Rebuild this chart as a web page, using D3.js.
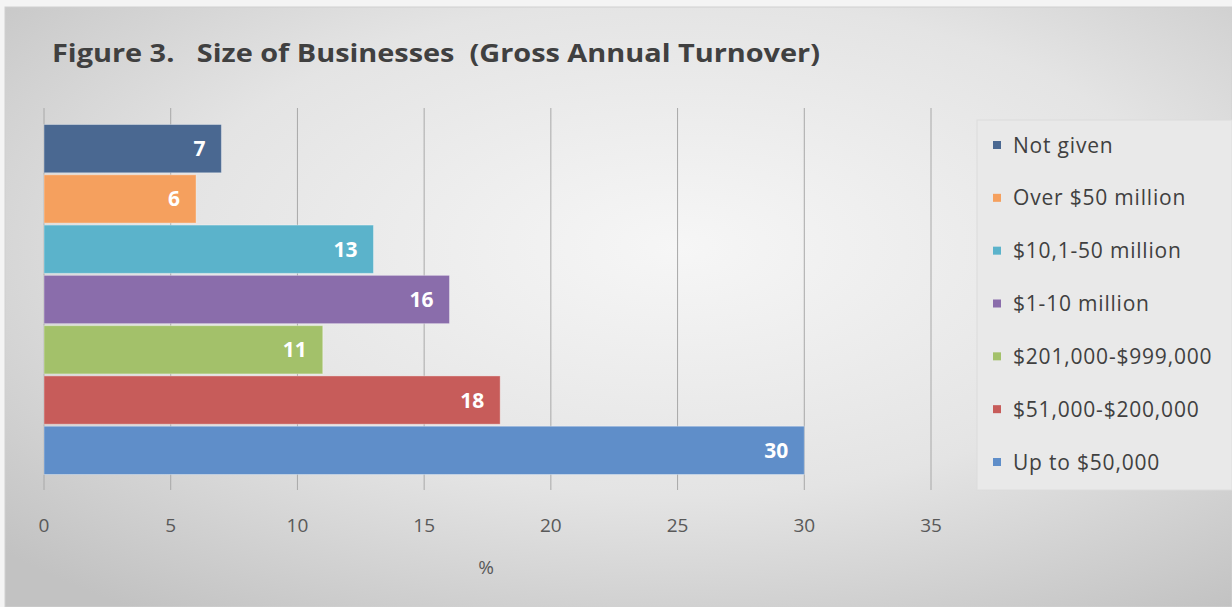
<!DOCTYPE html>
<html>
<head>
<meta charset="utf-8">
<script src="https://cdn.jsdelivr.net/npm/d3@7"></script>
<style>
  html, body { margin: 0; padding: 0; background: #f2f2f2; }
  svg { display: block; }
  text { font-family: "Open Sans", Lato, "DejaVu Sans", sans-serif; }
</style>
</head>
<body>
<svg id="chart" width="1232" height="607"></svg>
<script>
// Business size categories, top bar first
const categories = [
  "Not given",
  "Over $50 million",
  "$10,1-50 million",
  "$1-10 million",
  "$201,000-$999,000",
  "$51,000-$200,000",
  "Up to $50,000"
];
const values = [7, 6, 13, 16, 11, 18, 30];
const colors = ["#4a6891", "#f5a05e", "#5bb3cb", "#8a6dab", "#a3c16a", "#c75c5a", "#5f8ec9"];
const xTicks = [0, 5, 10, 15, 20, 25, 30, 35];

const svg = d3.select("#chart");
const W = 1232, H = 607;

// soft radial background
const defs = svg.append("defs");
const rg = defs.append("radialGradient").attr("id", "bg")
  .attr("cx", "55%").attr("cy", "40%").attr("r", "75%");
rg.append("stop").attr("offset", "0%").attr("stop-color", "#f6f6f6");
rg.append("stop").attr("offset", "55%").attr("stop-color", "#e4e4e4");
rg.append("stop").attr("offset", "100%").attr("stop-color", "#c2c2c2");

svg.append("rect").attr("x", 0).attr("y", 0).attr("width", W).attr("height", H).attr("fill", "#f4f4f4");
svg.append("rect").attr("x", 5).attr("y", 7).attr("width", W - 5).attr("height", H - 7)
  .attr("fill", "url(#bg)").attr("stroke", "#d0d0d0").attr("stroke-width", 1);

// title
svg.append("text")
  .attr("x", 52).attr("y", 62)
  .attr("xml:space", "preserve")
  .style("white-space", "pre")
  .attr("font-size", 25).attr("font-weight", 700).attr("fill", "#404040")
  .attr("textLength", 768).attr("lengthAdjust", "spacingAndGlyphs")
  .text("Figure 3.   Size of Businesses  (Gross Annual Turnover)");

// scales
const x = d3.scaleLinear().domain([0, 35]).range([44, 931]);
const y = d3.scaleBand().domain(categories).range([124, 475]).paddingInner(0.04).paddingOuter(0.01);

// vertical gridlines (run below the bars as tick marks)
svg.append("g").selectAll("line").data(xTicks).join("line")
  .attr("x1", d => x(d)).attr("x2", d => x(d))
  .attr("y1", 108).attr("y2", 490)
  .attr("stroke", "#a8a8a8").attr("stroke-width", 1);

// tick labels
svg.append("g").selectAll("text").data(xTicks).join("text")
  .attr("x", d => x(d)).attr("y", 532)
  .attr("text-anchor", "middle")
  .attr("font-size", 19).attr("fill", "#595959")
  .text(d => d);

svg.append("text").attr("x", 486).attr("y", 574)
  .attr("text-anchor", "middle").attr("font-size", 19).attr("fill", "#595959")
  .text("%");

// bars
svg.append("g").selectAll("rect").data(categories).join("rect")
  .attr("x", x(0))
  .attr("y", d => y(d))
  .attr("width", (d, i) => x(values[i]) - x(0))
  .attr("height", y.bandwidth())
  .attr("fill", (d, i) => colors[i])
  .attr("stroke", "rgba(255,255,255,0.35)").attr("stroke-width", 1);

// value labels inside the bar ends
svg.append("g").selectAll("text").data(categories).join("text")
  .attr("x", (d, i) => x(values[i]) - 16)
  .attr("y", d => y(d) + y.bandwidth() / 2)
  .attr("dy", "0.36em")
  .attr("text-anchor", "end")
  .attr("font-size", 21).attr("font-weight", 700).attr("fill", "#ffffff")
  .text((d, i) => values[i]);

// legend
const lg = svg.append("g");
lg.append("rect").attr("x", 977).attr("y", 120).attr("width", 255).attr("height", 370)
  .attr("fill", "#e9e9e9").attr("stroke", "#dcdcdc");
const ly = d3.scalePoint().domain(categories).range([145, 462]);
lg.selectAll("rect.sw").data(categories).join("rect").attr("class", "sw")
  .attr("x", 993).attr("y", d => ly(d) - 4).attr("width", 8).attr("height", 8)
  .attr("fill", (d, i) => colors[i]);
lg.selectAll("text").data(categories).join("text")
  .attr("x", 1013).attr("y", d => ly(d)).attr("dy", "0.36em")
  .attr("font-size", 21).attr("letter-spacing", 0.8).attr("fill", "#404040")
  .text(d => d);
</script>
</body>
</html>
